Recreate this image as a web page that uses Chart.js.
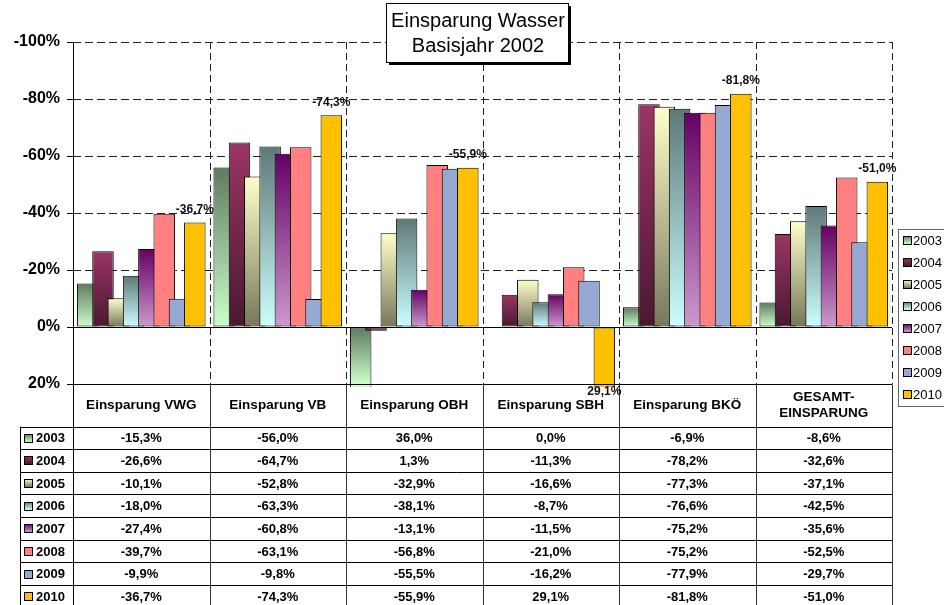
<!DOCTYPE html>
<html>
<head>
<meta charset="utf-8">
<script src="https://cdn.jsdelivr.net/npm/chart.js@4/dist/chart.umd.min.js"></script>
<style>
  body { margin: 0; background: #fff; }
  #wrap { width: 944px; height: 605px; }
</style>
</head>
<body>
<div id="wrap"><canvas id="waterChart" width="944" height="605"></canvas></div>
<script>
// Kategorien (Spalten der Datentabelle)
const categories = ["Einsparung VWG", "Einsparung VB", "Einsparung OBH", "Einsparung SBH", "Einsparung BKÖ", ["GESAMT-", "EINSPARUNG"]];
const years = ["2003", "2004", "2005", "2006", "2007", "2008", "2009", "2010"];

// Werte in Prozent, je Jahr
const v2003 = [-15.3, -56.0, 36.0, 0.0, -6.9, -8.6];
const v2004 = [-26.6, -64.7, 1.3, -11.3, -78.2, -32.6];
const v2005 = [-10.1, -52.8, -32.9, -16.6, -77.3, -37.1];
const v2006 = [-18.0, -63.3, -38.1, -8.7, -76.6, -42.5];
const v2007 = [-27.4, -60.8, -13.1, -11.5, -75.2, -35.6];
const v2008 = [-39.7, -63.1, -56.8, -21.0, -75.2, -52.5];
const v2009 = [-9.9, -9.8, -55.5, -16.2, -77.9, -29.7];
const v2010 = [-36.7, -74.3, -55.9, 29.1, -81.8, -51.0];
const seriesValues = [v2003, v2004, v2005, v2006, v2007, v2008, v2009, v2010];

// Achse
const yMin = -100;
const yMax = 20;
const yStep = 20;

// Farben: [oben, unten] fuer Verlauf, sonst einfarbig
const seriesColors = [
    ["#5f7a5f", "#ccffcc"],
    ["#9b3565", "#4a1830"],
    ["#ffffcc", "#77775a"],
    ["#5f7878", "#ccffff"],
    ["#660066", "#cc99cc"],
    ["#ff8080"],
    ["#96a9d2"],
    ["#ffc000"]
];

const FONT = "'Liberation Sans', Arial, sans-serif";

function fmt(v) {
    return v.toFixed(1).replace(".", ",") + "%";
}

// Verlauf pro Balken (oben dunkel/hell je nach Serie)
function barFill(i) {
    return function (c) {
        const col = seriesColors[i];
        const chart = c.chart;
        if (col.length === 1 || !chart.chartArea || c.type !== "data") return col[0];
        const y = chart.scales.y;
        const v = Math.max(yMin, Math.min(yMax, c.raw));
        const p0 = y.getPixelForValue(0), p1 = y.getPixelForValue(v);
        const top = Math.min(p0, p1), bot = Math.max(p0, p1);
        if (bot - top < 1) return col[0];
        const g = chart.ctx.createLinearGradient(0, top, 0, bot);
        g.addColorStop(0, col[0]);
        g.addColorStop(1, col[1]);
        return g;
    };
}

function keyFill(ctx, i, x, y, s) {
    const col = seriesColors[i];
    if (col.length === 1) return col[0];
    const g = ctx.createLinearGradient(0, y, 0, y + s);
    g.addColorStop(0, col[0]);
    g.addColorStop(1, col[1]);
    return g;
}

function drawKey(ctx, i, x, y) {
    ctx.fillStyle = keyFill(ctx, i, x, y, 8);
    ctx.fillRect(x, y, 8, 8);
    ctx.strokeStyle = "#000";
    ctx.lineWidth = 1;
    ctx.strokeRect(x + 0.5, y + 0.5, 8, 8);
}

function categoryEdges(chart) {
    const x = chart.scales.x, a = chart.chartArea;
    const edges = [a.left];
    for (let i = 0; i < categories.length - 1; i++) {
        edges.push(Math.round((x.getPixelForValue(i) + x.getPixelForValue(i + 1)) / 2) + 0.5);
    }
    edges.push(a.right + 0.5);
    return edges;
}

// Gitter + Balken in Reihenfolge 2003 -> 2010 (spaetere oben)
const gridAndBars = {
    id: "gridAndBars",
    beforeDatasetsDraw(chart) {
        const ctx = chart.ctx, a = chart.chartArea, y = chart.scales.y;
        ctx.save();
        ctx.strokeStyle = "#222";
        ctx.lineWidth = 1;
        ctx.setLineDash([8, 4]);
        y.ticks.forEach(t => {
            if (t.value >= 0) return;
            const p = Math.round(y.getPixelForValue(t.value)) + 0.5;
            ctx.beginPath();
            ctx.moveTo(a.left, p);
            ctx.lineTo(a.right, p);
            ctx.stroke();
        });
        ctx.setLineDash([7, 4]);
        categoryEdges(chart).slice(1).forEach(ex => {
            ctx.beginPath();
            ctx.moveTo(ex, a.top);
            ctx.lineTo(ex, a.bottom);
            ctx.stroke();
        });
        ctx.restore();

        ctx.save();
        ctx.beginPath();
        ctx.rect(a.left, a.top, a.right - a.left, a.bottom - a.top + 3);
        ctx.clip();
        chart.data.datasets.forEach((d, i) => chart.getDatasetMeta(i).controller.draw());
        ctx.restore();
        return false;
    }
};

// Titel, Legende, Datentabelle, Beschriftungen
const overlay = {
    id: "overlay",
    afterDraw(chart) {
        const ctx = chart.ctx, a = chart.chartArea, y = chart.scales.y, x = chart.scales.x;
        const edges = categoryEdges(chart);
        const p0 = Math.round(y.getPixelForValue(0)) + 0.5;
        const pB = Math.round(y.getPixelForValue(yMax)) + 0.5;
        const tableTop = pB + 42;
        const rowH = 22.65;
        const keyLeft = 20.5;

        ctx.save();
        ctx.strokeStyle = "#000";
        ctx.lineWidth = 1;
        // Nulllinie und untere Linie
        [p0, pB].forEach(p => {
            ctx.beginPath();
            ctx.moveTo(a.left, p);
            ctx.lineTo(a.right, p);
            ctx.stroke();
        });
        // Achse bis unten
        ctx.beginPath();
        ctx.moveTo(a.left + 0.5, a.top);
        ctx.lineTo(a.left + 0.5, chart.height);
        ctx.stroke();

        // Tabellenlinien
        ctx.strokeStyle = "#333";
        edges.slice(1).forEach(ex => {
            ctx.beginPath();
            ctx.moveTo(ex, pB);
            ctx.lineTo(ex, chart.height);
            ctx.stroke();
        });
        ctx.strokeStyle = "#000";
        for (let r = 0; r < years.length; r++) {
            const ry = Math.round(tableTop + r * rowH) + 0.5;
            ctx.beginPath();
            ctx.moveTo(keyLeft, ry);
            ctx.lineTo(a.right, ry);
            ctx.stroke();
        }
        ctx.beginPath();
        ctx.moveTo(keyLeft, tableTop);
        ctx.lineTo(keyLeft, chart.height);
        ctx.stroke();

        // Kopfzeile
        ctx.fillStyle = "#000";
        ctx.textAlign = "center";
        ctx.textBaseline = "middle";
        ctx.font = "bold 13.5px " + FONT;
        categories.forEach((c, i) => {
            const cx = x.getPixelForValue(i);
            const lines = Array.isArray(c) ? c : [c];
            lines.forEach((l, k) => {
                ctx.fillText(l, cx, pB + 21 + (k - (lines.length - 1) / 2) * 16);
            });
        });

        // Zeilen
        ctx.font = "bold 13px " + FONT;
        years.forEach((yr, r) => {
            const cy = tableTop + (r + 0.5) * rowH + 1;
            drawKey(ctx, r, 24, Math.round(cy) - 5);
            ctx.fillStyle = "#000";
            ctx.textAlign = "left";
            ctx.fillText(yr, 36, cy);
            ctx.textAlign = "center";
            seriesValues[r].forEach((v, i) => {
                ctx.fillText(fmt(v), x.getPixelForValue(i), cy);
            });
        });

        // Datenbeschriftung 2010
        const last = years.length - 1;
        const meta = chart.getDatasetMeta(last);
        ctx.font = "bold 12px " + FONT;
        ctx.fillStyle = "#111";
        ctx.textAlign = "center";
        meta.data.forEach((bar, i) => {
            const v = seriesValues[last][i];
            let ly;
            if (v < 0) {
                ly = Math.max(bar.y, a.top) - 13;
            } else {
                ly = bar.y > a.bottom ? a.bottom + 8 : bar.y + 13;
            }
            ctx.fillText(fmt(v), bar.x, ly);
        });

        // Titel
        const tx = 386, ty = 3, tw = 182, th = 59;
        ctx.fillStyle = "#000";
        ctx.fillRect(tx + 3, ty + 3, tw, th);
        ctx.fillStyle = "#fff";
        ctx.fillRect(tx, ty, tw, th);
        ctx.strokeStyle = "#000";
        ctx.strokeRect(tx + 0.5, ty + 0.5, tw, th);
        ctx.fillStyle = "#000";
        ctx.font = "20px " + FONT;
        ctx.fillText("Einsparung Wasser", tx + tw / 2 + 1, ty + 18);
        ctx.fillText("Basisjahr 2002", tx + tw / 2 + 1, ty + 43);

        // Legende rechts
        const lx = 898.5, ly0 = 229.5;
        ctx.fillStyle = "#fff";
        ctx.fillRect(lx, ly0, 60, 177);
        ctx.strokeStyle = "#666";
        ctx.strokeRect(lx, ly0, 60, 177);
        ctx.font = "13px " + FONT;
        ctx.textAlign = "left";
        years.forEach((yr, i) => {
            const cy = 240 + i * 22;
            drawKey(ctx, i, 903, cy - 4);
            ctx.fillStyle = "#000";
            ctx.fillText(yr, 913, cy + 1);
        });
        ctx.restore();
    }
};

const datasets = years.map((yr, i) => ({
    label: yr,
    data: seriesValues[i],
    backgroundColor: barFill(i),
    borderColor: "#000",
    borderWidth: 1,
    borderSkipped: false,
    categoryPercentage: 0.897,
    barPercentage: 1.405
}));

new Chart(document.getElementById("waterChart"), {
    type: "bar",
    data: {
        labels: categories.map(c => Array.isArray(c) ? c.join(" ") : c),
        datasets: datasets
    },
    options: {
        responsive: false,
        animation: false,
        events: [],
        layout: { padding: { left: 0, right: 52, top: 42, bottom: 221 } },
        plugins: {
            legend: { display: false },
            tooltip: { enabled: false }
        },
        scales: {
            x: { display: false },
            y: {
                min: yMin,
                max: yMax,
                reverse: true,
                afterFit: s => { s.width = 73; },
                border: { display: true, color: "#000", width: 1 },
                grid: { drawOnChartArea: false, drawTicks: true, tickLength: 6, color: "#000" },
                ticks: {
                    stepSize: yStep,
                    padding: 7,
                    color: "#000",
                    font: { family: FONT, size: 16, weight: "bold" },
                    callback: v => v + "%"
                }
            }
        }
    },
    plugins: [gridAndBars, overlay]
});
</script>
</body>
</html>
